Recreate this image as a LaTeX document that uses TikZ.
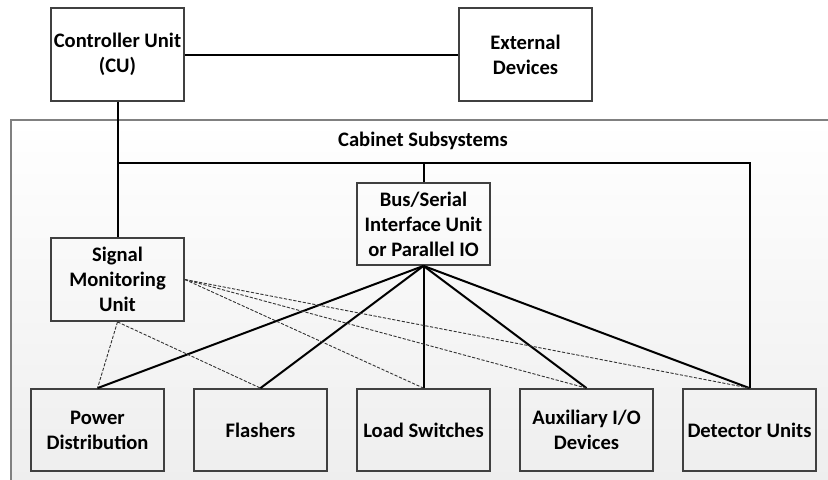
\documentclass[tikz,border=0pt]{standalone}
\usepackage{fontspec}
\setmainfont{Carlito}
\usetikzlibrary{positioning}

\begin{document}
\begin{tikzpicture} [x=0.5pt, y=-0.5pt,
    unit/.style = {draw=black!75, line width=0.9pt, inner sep=1pt,
        minimum width=66.5pt, minimum height=41pt, align=center,
        font=\bfseries\fontsize{10.3}{12.5}\selectfont},
    top unit/.style = {unit, minimum height=46.5pt},
    link/.style = {line width=1pt},
    monitor link/.style = {draw=black!80, line width=0.45pt,
        dash pattern=on 1.6pt off 0.8pt}]
    \useasboundingbox (0,0) rectangle (828,479);

    % cabinet frame, runs off the page at right and bottom
    \shadedraw [top color=white, bottom color=black!7,
        draw=black!50, line width=0.8pt] (11,120) rectangle (850,500);
    \node (cab) [font=\bfseries\fontsize{10.3}{12.5}\selectfont]
        at (423,141) {Cabinet Subsystems};

    \node (cu) [top unit] at (117.5,54.5) {Controller Unit\\(CU)};
    \node (ext) [top unit] at (525.5,54.5) {External\\Devices};

    \node (smu) [unit, minimum height=41.5pt] at (117.5,279.5) {Signal\\Monitoring\\Unit};
    \node (biu) [unit] at (423.5,224) {Bus/Serial\\Interface Unit\\or Parallel IO};

    \node (pwr) [unit] at (97.5,430) {Power\\Distribution};
    \node (fl) [unit] at (260.5,430) {Flashers};
    \node (ls) [unit] at (423.5,430) {Load Switches};
    \node (aux) [unit] at (586.5,430) {Auxiliary I/O\\Devices};
    \node (det) [unit] at (749.5,430) {Detector Units};

    \coordinate (bus) at (117.5,163);

    \path [link]
        (cu) edge (ext)
        (cu) edge (smu)
        (biu.north) edge (biu.north |- bus)
        (biu.south) edge (pwr.north)
        (biu.south) edge (fl.north)
        (biu.south) edge (ls.north)
        (biu.south) edge (aux.north)
        (biu.south) edge (det.north);
    \draw [link] (bus) -| (det.north);

    \path [monitor link]
        (smu.south) edge (pwr.north)
        (smu.south) edge (fl.north)
        (smu.east) edge (ls.north)
        (smu.east) edge (aux.north)
        (smu.east) edge (det.north);
\end{tikzpicture}
\end{document}
